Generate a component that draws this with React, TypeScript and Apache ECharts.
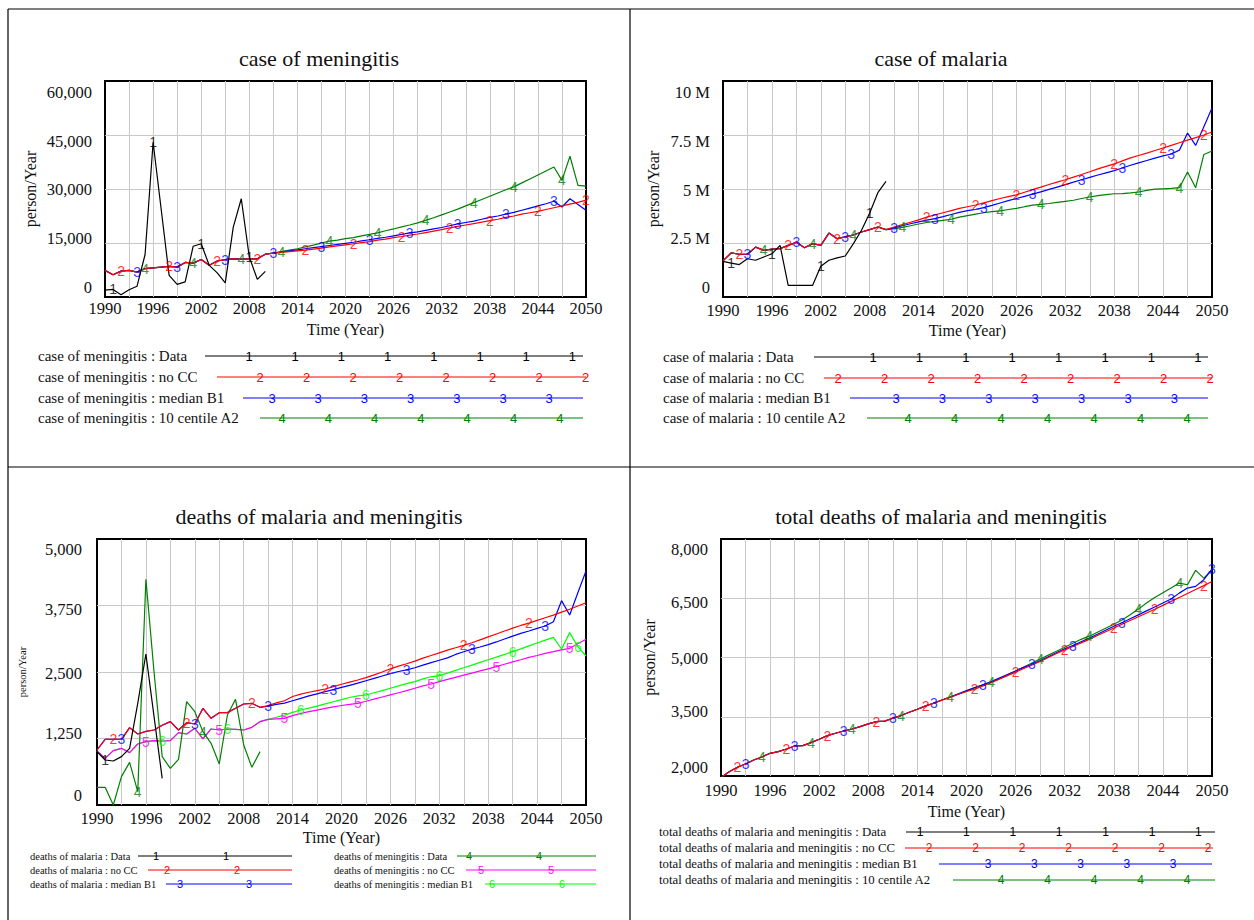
import React, { useEffect, useRef } from 'react';
import * as echarts from 'echarts';

// ---------- categories ----------
const YEARS: number[] = [];
for (let y = 1990; y <= 2050; y++) YEARS.push(y);

// ---------- panel 1 : case of meningitis (person/Year) ----------
const meningData = [1900, 2100, 650, 2000, 3000, 11800, 43000, 24500, 6000, 3500, 4200, 14100, 14800, 8800, 6700, 3900, 19400, 27300, 11100, 4900, 7100];
const meningHist = [7400, 6200, 7200, 7400, 6900, 7900, 8100, 8300, 8500, 8300, 9600, 9400, 10400, 8800, 10000, 10400, 10600, 10500, 10600, 10600, 11900];
const meningNoCC = [12200, 12400, 12600, 12800, 13000, 13300, 13600, 13900, 14200, 14500, 14800, 15100, 15400, 15800, 16100, 16500, 16800, 17200, 17500, 17900, 18300, 18700, 19200, 19600, 20000, 20400, 20800, 21200, 21600, 22100, 22500, 23000, 23400, 23800, 24300, 24800, 25300, 25800, 26300, 26900];
const meningB1 = [12200, 12500, 12800, 13100, 13400, 13700, 14000, 14300, 14600, 14900, 15200, 15600, 15900, 16300, 16600, 17000, 17400, 17800, 18100, 18500, 18900, 19300, 19800, 20300, 20700, 21100, 21600, 22100, 22500, 23000, 23500, 24100, 24700, 25300, 25900, 26600, 25000, 27300, 25700, 24100];
const meningA2 = [12200, 12600, 13000, 13400, 13900, 14400, 15000, 15500, 15800, 16200, 16500, 17000, 17400, 17800, 18400, 18900, 19500, 20000, 20600, 21300, 22000, 22800, 23600, 24400, 25300, 26200, 27100, 28000, 28900, 29800, 30600, 31700, 32800, 33900, 35000, 36100, 32400, 39100, 31000, 30800];
const p1Marks1 = [1991, 1996, 2002, 2008];
const p1Marks2 = [1992, 1998, 2004, 2009, 2015, 2021, 2027, 2033, 2038, 2044, 2050];
const p1Marks3 = [1994, 1999, 2005, 2011, 2017, 2023, 2028, 2034, 2040, 2046];
const p1Marks4 = [1995, 2001, 2007, 2012, 2018, 2024, 2030, 2036, 2041, 2047];
const p1Ticks = ['0', '15,000', '30,000', '45,000', '60,000'];

// ---------- panel 2 : case of malaria (million person/Year) ----------
const malariaData = [1.65, 1.57, 1.5, 1.77, 1.7, 1.85, 2.0, 2.39, 0.54, 0.54, 0.54, 0.54, 1.42, 1.7, 1.81, 1.9, 2.47, 3.09, 3.89, 4.83, 5.35];
const malariaHist = [1.67, 2.04, 1.98, 1.98, 2.31, 2.16, 2.22, 2.24, 2.39, 2.53, 2.28, 2.47, 2.39, 2.96, 2.7, 2.78, 2.87, 3.01, 3.12, 3.24, 3.12];
const malariaNoCC = [3.24, 3.35, 3.46, 3.57, 3.7, 3.8, 3.9, 4.0, 4.1, 4.18, 4.26, 4.36, 4.46, 4.56, 4.65, 4.73, 4.85, 4.97, 5.09, 5.21, 5.32, 5.43, 5.55, 5.67, 5.8, 5.93, 6.05, 6.16, 6.3, 6.44, 6.55, 6.66, 6.78, 6.9, 7.02, 7.14, 7.26, 7.38, 7.5, 7.64];
const malariaB1 = [3.2, 3.3, 3.39, 3.48, 3.56, 3.63, 3.72, 3.82, 3.92, 4.0, 4.06, 4.14, 4.24, 4.35, 4.46, 4.56, 4.66, 4.76, 4.87, 4.98, 5.09, 5.2, 5.32, 5.43, 5.54, 5.65, 5.75, 5.85, 5.97, 6.1, 6.21, 6.32, 6.43, 6.53, 6.62, 6.8, 7.59, 7.02, 7.88, 8.75];
const malariaA2 = [3.15, 3.22, 3.3, 3.38, 3.45, 3.5, 3.55, 3.6, 3.7, 3.77, 3.84, 3.9, 3.95, 3.99, 4.05, 4.1, 4.18, 4.25, 4.29, 4.33, 4.38, 4.43, 4.48, 4.56, 4.63, 4.69, 4.74, 4.78, 4.79, 4.82, 4.86, 4.94, 4.99, 5.01, 5.03, 5.06, 5.79, 5.06, 6.6, 6.76];
const p2Marks1 = [1991, 1996, 2002, 2008];
const p2Marks2 = [1992, 1998, 2004, 2009, 2015, 2021, 2026, 2032, 2038, 2044, 2049];
const p2Marks3 = [1993, 1999, 2005, 2011, 2016, 2022, 2028, 2034, 2039, 2045];
const p2Marks4 = [1995, 2001, 2006, 2012, 2018, 2024, 2029, 2035, 2041, 2046];
const p2Ticks = ['0', '2.5 M', '5 M', '7.5 M', '10 M'];

// ---------- panel 3 : deaths of malaria and meningitis ----------
const malDeathData = [1003, 846, 827, 909, 1065, 1911, 2838, 1660, 501];
const malDeathHist = [1034, 1234, 1234, 1234, 1454, 1335, 1385, 1410, 1498, 1567, 1410, 1548, 1523, 1817, 1629, 1736, 1736, 1817, 1899, 1911, 1836];
const malDeathNoCC = [1867, 1920, 1960, 2040, 2085, 2120, 2150, 2180, 2225, 2270, 2310, 2350, 2395, 2445, 2500, 2560, 2610, 2655, 2705, 2760, 2810, 2860, 2910, 2955, 3000, 3050, 3105, 3160, 3215, 3270, 3325, 3375, 3420, 3470, 3520, 3570, 3625, 3680, 3740, 3803];
const malDeathB1 = [1860, 1890, 1915, 1960, 2005, 2050, 2090, 2130, 2170, 2210, 2250, 2290, 2335, 2380, 2425, 2470, 2510, 2540, 2580, 2630, 2675, 2720, 2765, 2830, 2880, 2930, 2970, 3015, 3065, 3120, 3175, 3225, 3270, 3320, 3365, 3446, 3841, 3572, 3990, 4400];
const menDeathData = [332, 332, 0, 533, 802, 251, 4242, 2500, 909, 689, 858, 1942, 1754, 1379, 1159, 771, 1692, 1986, 1128, 708, 1003];
const menDeathHist = [1015, 877, 1021, 1065, 984, 1147, 1190, 1209, 1203, 1209, 1360, 1335, 1441, 1241, 1429, 1410, 1429, 1422, 1410, 1460, 1567];
const menDeathNoCC = [1610, 1620, 1629, 1680, 1723, 1755, 1785, 1815, 1845, 1870, 1890, 1911, 1950, 1990, 2030, 2070, 2110, 2150, 2195, 2240, 2275, 2320, 2360, 2400, 2440, 2480, 2520, 2560, 2600, 2645, 2690, 2730, 2775, 2810, 2850, 2882, 2915, 2945, 3030, 3114];
const menDeathB1 = [1610, 1650, 1690, 1740, 1786, 1820, 1860, 1900, 1940, 1980, 2020, 2050, 2068, 2110, 2150, 2195, 2240, 2280, 2320, 2370, 2410, 2431, 2480, 2530, 2580, 2630, 2680, 2730, 2780, 2830, 2882, 2935, 2990, 3045, 3100, 3152, 2932, 3240, 2976, 2801];
const p3Marks1 = [1991];
const p3Marks2 = [1992, 2001, 2009, 2018, 2026, 2035, 2043];
const p3Marks3 = [1993, 2002, 2011, 2019, 2028, 2036, 2045];
const p3Marks4 = [1995, 2003];
const p3Marks5 = [1996, 2005, 2013, 2022, 2031, 2039, 2048];
const p3Marks6 = [1998, 2006, 2015, 2023, 2032, 2041, 2049];
const p3Ticks = ['0', '1,250', '2,500', '3,750', '5,000'];

// ---------- panel 4 : total deaths of malaria and meningitis ----------
const totHist = [1960, 2110, 2220, 2304, 2405, 2482, 2575, 2617, 2684, 2760, 2769, 2845, 2930, 3022, 3082, 3140, 3190, 3250, 3318, 3377, 3390];
const totNoCC = [3462, 3530, 3614, 3690, 3775, 3842, 3920, 3990, 4070, 4140, 4200, 4280, 4360, 4450, 4540, 4630, 4720, 4810, 4900, 5000, 5100, 5194, 5280, 5370, 5460, 5555, 5650, 5745, 5840, 5935, 6030, 6125, 6220, 6320, 6420, 6520, 6620, 6720, 6820, 6926];
const totB1 = [3462, 3530, 3614, 3690, 3775, 3842, 3925, 4000, 4080, 4160, 4240, 4310, 4390, 4480, 4570, 4660, 4750, 4830, 4920, 5020, 5120, 5220, 5300, 5400, 5490, 5590, 5690, 5790, 5880, 5980, 6080, 6180, 6280, 6380, 6480, 6630, 6757, 6800, 6969, 7239];
const totA2 = [3462, 3530, 3614, 3690, 3775, 3842, 3925, 4000, 4070, 4150, 4230, 4300, 4370, 4460, 4560, 4660, 4760, 4860, 4960, 5060, 5160, 5260, 5360, 5460, 5540, 5640, 5740, 5840, 5950, 6080, 6225, 6380, 6520, 6640, 6760, 6884, 6842, 7205, 7011, 7222];
const p4Marks2 = [1992, 1998, 2003, 2009, 2015, 2021, 2026, 2032, 2038, 2043, 2049];
const p4Marks3 = [1993, 1999, 2005, 2011, 2016, 2022, 2028, 2033, 2039, 2045, 2050];
const p4Marks4 = [1995, 2001, 2006, 2012, 2018, 2023, 2029, 2035, 2041, 2046];
const p4Ticks = ['2,000', '3,500', '5,000', '6,500', '8,000'];

// ---------- styling ----------
const SERIF = '"Liberation Serif", "Times New Roman", serif';
const SANS = '"Liberation Sans", Arial, sans-serif';
const TXT = '#111111';
const COL = { black: '#000000', red: '#ff0000', blue: '#0000ff', green: '#008000', magenta: '#ff00ff', lime: '#00ff00' };
const AXIS_FS = 16.5;

const full = (hist: number[], proj: number[]) => hist.concat(proj);

function lineSeries(name: string, vals: number[], color: string, gi: number) {
  return {
    type: 'line', name, xAxisIndex: gi, yAxisIndex: gi,
    data: vals.map((v, i) => [YEARS[i], v]),
    symbol: 'none', showSymbol: false, silent: true, clip: true,
    lineStyle: { color, width: 1.2 }, itemStyle: { color },
  };
}

function markSeries(name: string, vals: number[], years: number[], num: string, color: string, gi: number, size = 14) {
  return {
    type: 'scatter', name: name + ' marks', xAxisIndex: gi, yAxisIndex: gi,
    data: years.map((y) => [y, vals[y - 1990]]),
    symbol: 'circle', symbolSize: 1, silent: true, z: 4,
    itemStyle: { color: 'rgba(0,0,0,0)' },
    label: { show: true, position: 'inside', formatter: () => num, color, fontSize: size, fontFamily: SANS },
  };
}

function xAxisFor(gi: number, margin: number, nameGap: number) {
  return {
    type: 'value', gridIndex: gi, min: 1990, max: 2050, interval: 3,
    axisLine: { show: false }, axisTick: { show: false },
    splitLine: { show: true, showMinLine: false, showMaxLine: false, lineStyle: { color: '#c8c8c8', width: 1 } },
    axisLabel: {
      margin, fontSize: AXIS_FS, fontFamily: SERIF, color: TXT, showMinLabel: true, showMaxLabel: true,
      formatter: (v: number) => ((Math.round(v) - 1990) % 6 === 0 ? String(Math.round(v)) : ''),
    },
    name: 'Time (Year)', nameLocation: 'middle', nameGap,
    nameTextStyle: { fontSize: 16, fontFamily: SERIF, color: TXT },
  };
}

function yAxisFor(gi: number, min: number, max: number, interval: number, ticks: string[], shifts: number[], margin: number, nameGap: number, nameSize: number) {
  const rich: any = {};
  shifts.forEach((d, i) => {
    rich['s' + i] = {
      fontSize: AXIS_FS, fontFamily: SERIF, color: TXT,
      padding: d >= 0 ? [2 * d, 0, 0, 0] : [0, 0, -2 * d, 0],
    };
  });
  return {
    type: 'value', gridIndex: gi, min, max, interval,
    axisLine: { show: false }, axisTick: { show: false },
    splitLine: { show: true, showMinLine: false, showMaxLine: false, lineStyle: { color: '#c8c8c8', width: 1 } },
    axisLabel: {
      margin, fontSize: AXIS_FS, fontFamily: SERIF, color: TXT, showMinLabel: true, showMaxLabel: true,
      formatter: (_v: number, idx: number) => `{s${idx}|${ticks[idx]}}`, rich,
    },
    name: 'person/Year', nameLocation: 'middle', nameGap,
    nameTextStyle: { fontSize: nameSize, fontFamily: SERIF, color: TXT },
  };
}

type Row = { label: string; color: string; num: string; tx: number; ty: number; lx1: number; lx2: number; n0: number; step: number; count: number };

function legendEls(rows: Row[], fontSize: number, numSize: number) {
  const els: any[] = [];
  rows.forEach((r) => {
    els.push({ type: 'text', x: r.tx, y: r.ty, z: 50, style: { text: r.label, font: `${fontSize}px ${SERIF}`, fill: TXT, textVerticalAlign: 'middle' } });
    els.push({ type: 'line', z: 50, shape: { x1: r.lx1, y1: r.ty, x2: r.lx2, y2: r.ty }, style: { stroke: r.color, lineWidth: 1.1 } });
    for (let k = 0; k < r.count; k++) {
      els.push({ type: 'text', x: r.n0 + k * r.step, y: r.ty, z: 51, style: { text: r.num, font: `${numSize}px ${SANS}`, fill: r.color, textAlign: 'center', textVerticalAlign: 'middle' } });
    }
  });
  return els;
}

function title(text: string, x: number, y: number) {
  return { type: 'text', x, y, z: 50, style: { text, font: `22px ${SERIF}`, fill: TXT, textAlign: 'center', textVerticalAlign: 'middle' } };
}

function border(x1: number, y1: number, x2: number, y2: number) {
  return { type: 'line', z: 60, shape: { x1, y1, x2, y2 }, style: { stroke: '#000', lineWidth: 1.2 } };
}

function buildOption() {
  const grids = [
    { left: 105, top: 81, width: 481, height: 216 },
    { left: 723, top: 81, width: 489, height: 216 },
    { left: 97, top: 539, width: 489, height: 266 },
    { left: 721, top: 539, width: 491, height: 237 },
  ].map((g) => ({ ...g, show: true, borderColor: '#000', borderWidth: 2, backgroundColor: 'transparent', containLabel: false, outerBoundsMode: 'none' }));

  const xAxis = [xAxisFor(0, 3, 24), xAxisFor(1, 5, 25), xAxisFor(2, 5, 24), xAxisFor(3, 6, 27)];
  const yAxis = [
    yAxisFor(0, 0, 60000, 15000, p1Ticks, [-10, -5, 0, 6, 11], 13, 67, 16),
    yAxisFor(1, 0, 10, 2.5, p2Ticks, [-10, -5, 1, 6, 11], 13, 62, 16),
    yAxisFor(2, 0, 5000, 1250, p3Ticks, [-10, -5, 1, 4, 10], 15, 69, 10.5),
    yAxisFor(3, 2000, 8000, 1500, p4Ticks, [-9, -5, 1, 4, 10], 13, 64, 16),
  ];

  const m1 = full(meningHist, meningNoCC), m2 = full(meningHist, meningB1), m3 = full(meningHist, meningA2);
  const a1 = full(malariaHist, malariaNoCC), a2 = full(malariaHist, malariaB1), a3 = full(malariaHist, malariaA2);
  const d1 = full(malDeathHist, malDeathNoCC), d2 = full(malDeathHist, malDeathB1);
  const e1 = full(menDeathHist, menDeathNoCC), e2 = full(menDeathHist, menDeathB1);
  const t1 = full(totHist, totNoCC), t2 = full(totHist, totB1), t3 = full(totHist, totA2);

  const series: any[] = [
    // panel 1
    lineSeries('case of meningitis : 10 centile A2', m3, COL.green, 0),
    lineSeries('case of meningitis : median B1', m2, COL.blue, 0),
    lineSeries('case of meningitis : no CC', m1, COL.red, 0),
    lineSeries('case of meningitis : Data', meningData, COL.black, 0),
    markSeries('m4', m3, p1Marks4, '4', COL.green, 0),
    markSeries('m3', m2, p1Marks3, '3', COL.blue, 0),
    markSeries('m2', m1, p1Marks2, '2', COL.red, 0),
    markSeries('m1', meningData, p1Marks1, '1', COL.black, 0),
    // panel 2
    lineSeries('case of malaria : 10 centile A2', a3, COL.green, 1),
    lineSeries('case of malaria : median B1', a2, COL.blue, 1),
    lineSeries('case of malaria : no CC', a1, COL.red, 1),
    lineSeries('case of malaria : Data', malariaData, COL.black, 1),
    markSeries('a4', a3, p2Marks4, '4', COL.green, 1),
    markSeries('a3', a2, p2Marks3, '3', COL.blue, 1),
    markSeries('a2', a1, p2Marks2, '2', COL.red, 1),
    markSeries('a1', malariaData, p2Marks1, '1', COL.black, 1),
    // panel 3
    lineSeries('deaths of meningitis : median B1', e2, COL.lime, 2),
    lineSeries('deaths of meningitis : no CC', e1, COL.magenta, 2),
    lineSeries('deaths of meningitis : Data', menDeathData, COL.green, 2),
    lineSeries('deaths of malaria : median B1', d2, COL.blue, 2),
    lineSeries('deaths of malaria : no CC', d1, COL.red, 2),
    lineSeries('deaths of malaria : Data', malDeathData, COL.black, 2),
    markSeries('e6', e2, p3Marks6, '6', COL.lime, 2),
    markSeries('e5', e1, p3Marks5, '5', COL.magenta, 2),
    markSeries('e4', menDeathData, p3Marks4, '4', COL.green, 2),
    markSeries('d3', d2, p3Marks3, '3', COL.blue, 2),
    markSeries('d2', d1, p3Marks2, '2', COL.red, 2),
    markSeries('d1', malDeathData, p3Marks1, '1', COL.black, 2),
    // panel 4
    lineSeries('total deaths of malaria and meningitis : 10 centile A2', t3, COL.green, 3),
    lineSeries('total deaths of malaria and meningitis : median B1', t2, COL.blue, 3),
    lineSeries('total deaths of malaria and meningitis : no CC', t1, COL.red, 3),
    markSeries('t4', t3, p4Marks4, '4', COL.green, 3),
    markSeries('t3', t2, p4Marks3, '3', COL.blue, 3),
    markSeries('t2', t1, p4Marks2, '2', COL.red, 3),
  ];

  const leg1: Row[] = [
    { label: 'case of meningitis : Data', color: COL.black, num: '1', tx: 38, ty: 356, lx1: 205, lx2: 583, n0: 249, step: 46.2, count: 8 },
    { label: 'case of meningitis : no CC', color: COL.red, num: '2', tx: 38, ty: 377, lx1: 217, lx2: 586, n0: 260, step: 46.5, count: 8 },
    { label: 'case of meningitis : median B1', color: COL.blue, num: '3', tx: 38, ty: 398, lx1: 243, lx2: 583, n0: 272, step: 46.2, count: 7 },
    { label: 'case of meningitis : 10 centile A2', color: COL.green, num: '4', tx: 38, ty: 418, lx1: 260, lx2: 583, n0: 282, step: 46.3, count: 7 },
  ];
  const leg2: Row[] = [
    { label: 'case of malaria : Data', color: COL.black, num: '1', tx: 663, ty: 357, lx1: 814, lx2: 1208, n0: 873, step: 46.4, count: 8 },
    { label: 'case of malaria : no CC', color: COL.red, num: '2', tx: 663, ty: 378, lx1: 824, lx2: 1212, n0: 838, step: 46.5, count: 9 },
    { label: 'case of malaria : median B1', color: COL.blue, num: '3', tx: 663, ty: 398, lx1: 850, lx2: 1208, n0: 896, step: 46.4, count: 7 },
    { label: 'case of malaria : 10 centile A2', color: COL.green, num: '4', tx: 663, ty: 418, lx1: 867, lx2: 1208, n0: 908, step: 46.5, count: 7 },
  ];
  const leg3: Row[] = [
    { label: 'deaths of malaria : Data', color: COL.black, num: '1', tx: 30, ty: 856, lx1: 138, lx2: 292, n0: 156, step: 70, count: 2 },
    { label: 'deaths of malaria : no CC', color: COL.red, num: '2', tx: 30, ty: 870, lx1: 148, lx2: 292, n0: 167, step: 70, count: 2 },
    { label: 'deaths of malaria : median B1', color: COL.blue, num: '3', tx: 30, ty: 884, lx1: 166, lx2: 292, n0: 180, step: 69, count: 2 },
    { label: 'deaths of meningitis : Data', color: COL.green, num: '4', tx: 334, ty: 856, lx1: 457, lx2: 596, n0: 469, step: 70, count: 2 },
    { label: 'deaths of meningitis : no CC', color: COL.magenta, num: '5', tx: 334, ty: 870, lx1: 466, lx2: 596, n0: 481, step: 70, count: 2 },
    { label: 'deaths of meningitis : median B1', color: COL.lime, num: '6', tx: 334, ty: 884, lx1: 485, lx2: 596, n0: 492, step: 70, count: 2 },
  ];
  const leg4: Row[] = [
    { label: 'total deaths of malaria and meningitis : Data', color: COL.black, num: '1', tx: 659, ty: 832, lx1: 906, lx2: 1215, n0: 920, step: 46.4, count: 7 },
    { label: 'total deaths of malaria and meningitis : no CC', color: COL.red, num: '2', tx: 659, ty: 848, lx1: 905, lx2: 1213, n0: 929, step: 46.5, count: 7 },
    { label: 'total deaths of malaria and meningitis : median B1', color: COL.blue, num: '3', tx: 659, ty: 864, lx1: 939, lx2: 1212, n0: 988, step: 46.3, count: 5 },
    { label: 'total deaths of malaria and meningitis : 10 centile A2', color: COL.green, num: '4', tx: 659, ty: 880, lx1: 953, lx2: 1215, n0: 1001, step: 46.5, count: 5 },
  ];

  const graphic = [
    border(8, 9, 1254, 9),
    border(8, 9, 8, 920),
    border(630, 9, 630, 920),
    border(8, 467, 1254, 467),
    title('case of meningitis', 319, 58),
    title('case of malaria', 941, 58),
    title('deaths of malaria and meningitis', 319, 516),
    title('total deaths of malaria and meningitis', 941, 516),
    ...legendEls(leg1, 15, 13),
    ...legendEls(leg2, 15, 13),
    ...legendEls(leg3, 10.5, 11),
    ...legendEls(leg4, 12.8, 12),
  ];

  return {
    animation: false,
    backgroundColor: '#ffffff',
    textStyle: { fontFamily: SERIF },
    grid: grids,
    xAxis,
    yAxis,
    series,
    graphic,
  };
}

export default function App() {
  const ref = useRef<HTMLDivElement>(null);
  useEffect(() => {
    document.body.style.margin = '0';
    if (!ref.current) return;
    const chart = echarts.init(ref.current, undefined, { renderer: 'svg' });
    chart.setOption(buildOption() as any);
    return () => chart.dispose();
  }, []);
  return <div ref={ref} style={{ width: 1254, height: 920 }} />;
}
